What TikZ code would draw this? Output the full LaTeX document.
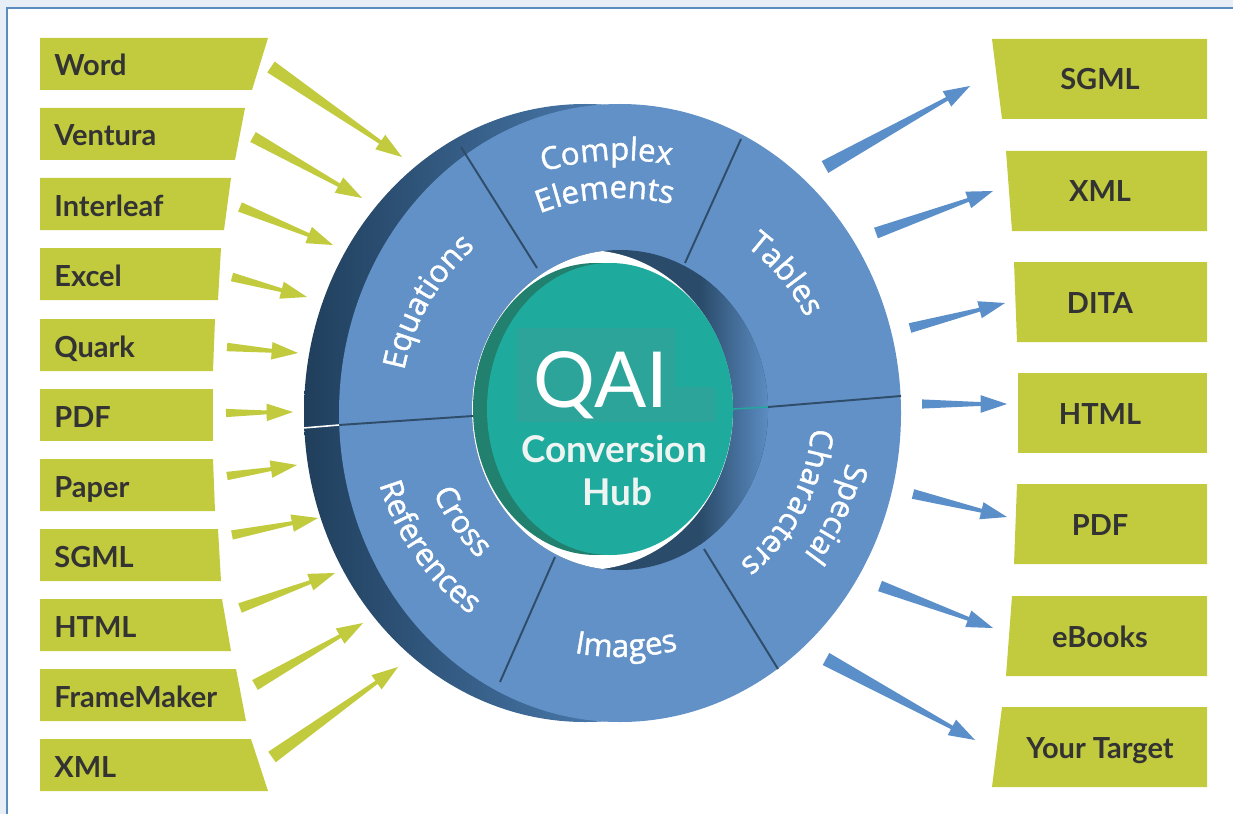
\documentclass[tikz,border=0pt]{standalone}
\usepackage{fontspec}
\setmainfont{Lato}
\newfontfamily\ringfamily{Open Sans}[FakeBold=1.3]
\usetikzlibrary{calc,decorations.text}

\definecolor{pagebg}{HTML}{E8EEF5}
\definecolor{framecol}{HTML}{5A8CBF}
\definecolor{boxgreen}{HTML}{C2CB3E}
\definecolor{boxtext}{HTML}{333333}
\definecolor{outblue}{HTML}{5B8FC9}
\definecolor{ringface}{HTML}{6191C7}
\definecolor{sidedark}{HTML}{1F3E5B}
\definecolor{sidelight}{HTML}{4E7FB4}
\definecolor{walldark}{HTML}{2A4B6A}
\definecolor{walllight}{HTML}{5D8EC5}
\definecolor{hubteal}{HTML}{1EAA9C}
\definecolor{hubdark}{HTML}{22806F}
\definecolor{hubpatch}{HTML}{2CA49A}
\definecolor{hubtext}{HTML}{EEF4F2}
\definecolor{divcol}{HTML}{2F4C69}

\newcommand{\ringlbl}{\color{white}\ringfamily\fontsize{17.8}{20}\selectfont}
\newcommand{\fatarrow}[3]{%
  \coordinate (neck) at ($(#2)!15pt!(#1)$);
  \fill[#3] let \p1=($(#2)-(#1)$), \n1={1.3pt+0.027*veclen(\x1,\y1)} in
    ($(#1)!\n1!90:(#2)$) -- ($(neck)!1.1pt!90:(#2)$) -- ($(neck)!5pt!90:(#2)$) -- (#2)
    -- ($(neck)!5pt!-90:(#2)$) -- ($(neck)!1.1pt!-90:(#2)$) -- ($(#1)!\n1!-90:(#2)$) -- cycle;
}

\begin{document}
\begin{tikzpicture}[x=0.02cm, y=-0.02cm]
	\tikzset{inlbl/.style={anchor=base west, inner sep=0pt, text=boxtext,
				font=\fontsize{16.5}{18}\selectfont\bfseries}}
	\tikzset{outlbl/.style={anchor=base, inner sep=0pt, text=boxtext,
				font=\fontsize{16.5}{18}\selectfont\bfseries}}
	\tikzset{divline/.style={draw=divcol, line width=1.1pt}}
	\tikzset{ringtext/.style={decorate, decoration={text along path,
				text align=center, text={|\ringlbl|#1}}}}

	\useasboundingbox (0,0) rectangle (1233,814);
	\fill[pagebg] (0,0) rectangle (1233,814);
	\draw[framecol, line width=1.4pt, fill=white] (7,8) rectangle (1260,840);

	% ring
	\begin{scope}
		\clip (585,413) ellipse [x radius=281, y radius=309];
		\shade[left color=sidedark, right color=sidelight] (300,100) rectangle (640,730);
	\end{scope}
	\fill[ringface] (620,413) ellipse [x radius=281, y radius=309];
	\begin{scope}
		\clip (620,410) ellipse [x radius=148, y radius=160];
		\fill[walldark] (460,240) rectangle (780,580);
		\shade[left color=walldark, right color=walllight] (700,240) rectangle (770,580);
		\fill[white] (585,410) ellipse [x radius=148, y radius=160];
		\fill[hubdark] (596,409) ellipse [x radius=123, y radius=146];
	\end{scope}
	\fill[hubteal] (610,409) ellipse [x radius=123, y radius=146];
	\fill[hubpatch] (517,328) rectangle (675,422);
	\fill[hubpatch] (675,387) rectangle (715,422);

	\draw[divline] (537,268) -- (461,147);
	\draw[divline] (685,263) -- (741,139);
	\draw[divline] (768,407) -- (901,396);
	\draw[hubteal, line width=0.8pt] (733,409) -- (768,407);
	\draw[divline] (704,549) -- (778,669);
	\draw[divline] (555,557) -- (500,682);
	\draw[divline] (473,416) -- (339,425);
	\draw[white, line width=0.9pt] (339,425) -- (303,428);

	\path[ringtext=Complex] (620,413) ++(-128:253) arc[start angle=-128, end angle=-58, radius=253];
	\path[ringtext=Elements] (620,413) ++(-134:215) arc[start angle=-134, end angle=-54, radius=215];
	\path[ringtext=Tables] (620,413) ++(-75:209) arc[start angle=-75, end angle=-5, radius=209];
	\path[ringtext=Equations] (620,413) ++(-185:220) arc[start angle=-185, end angle=-115, radius=220];
	\path[ringtext=Special] (620,413) ++(-10:232) arc[start angle=-10, end angle=60, radius=232];
	\path[ringtext=Characters] (620,413) ++(-12:192) arc[start angle=-12, end angle=68, radius=192];
	\path[ringtext=Images] (620,413) ++(123.5:244) arc[start angle=123.5, end angle=53.5, radius=244];
	\path[ringtext=Cross] (620,413) ++(-179.5:203) arc[start angle=-179.5, end angle=-249.5, radius=203];
	\path[ringtext=References] (620,413) ++(-180:251) arc[start angle=-180, end angle=-250, radius=251];

	\node[anchor=base, inner sep=0pt, text=white, font=\fontsize{44}{48}\selectfont] (qai) at (601,407) {QAI};
	\node[anchor=base, inner sep=0pt, text=hubtext, font=\fontsize{21}{24}\selectfont\bfseries] (conv) at (614,462) {Conversion};
	\node[anchor=base, inner sep=0pt, text=hubtext, font=\fontsize{21}{24}\selectfont\bfseries] (hub) at (617,505) {Hub};

	% source formats
	\fill[boxgreen] (40,38) -- (268,38) -- (252,90) -- (40,90) -- cycle;
	\fill[boxgreen] (40,108) -- (245,108) -- (235,160) -- (40,160) -- cycle;
	\fill[boxgreen] (40,178) -- (231,178) -- (224,230) -- (40,230) -- cycle;
	\fill[boxgreen] (40,248) -- (221,248) -- (218,300) -- (40,300) -- cycle;
	\fill[boxgreen] (40,319) -- (215,319) -- (213,371) -- (40,371) -- cycle;
	\fill[boxgreen] (40,389) -- (213,389) -- (213,441) -- (40,441) -- cycle;
	\fill[boxgreen] (40,459) -- (213,459) -- (215,511) -- (40,511) -- cycle;
	\fill[boxgreen] (40,529) -- (218,529) -- (221,581) -- (40,581) -- cycle;
	\fill[boxgreen] (40,599) -- (222,599) -- (231,651) -- (40,651) -- cycle;
	\fill[boxgreen] (40,669) -- (236,669) -- (246,721) -- (40,721) -- cycle;
	\fill[boxgreen] (40,739) -- (251,739) -- (268,791) -- (40,791) -- cycle;

	\node[inlbl] (inWord) at (54,76) {Word};
	\node[inlbl] (inVentura) at (54,146) {Ventura};
	\node[inlbl] (inInterleaf) at (54,216) {Interleaf};
	\node[inlbl] (inExcel) at (54,286) {Excel};
	\node[inlbl] (inQuark) at (54,357) {Quark};
	\node[inlbl] (inPDF) at (54,427) {PDF};
	\node[inlbl] (inPaper) at (54,497) {Paper};
	\node[inlbl] (inSGML) at (54,567) {SGML};
	\node[inlbl] (inHTML) at (54,637) {HTML};
	\node[inlbl] (inFrame) at (54,707) {FrameMaker};
	\node[inlbl] (inXML) at (54,777) {XML};

	% target formats
	\fill[boxgreen] (992,39) -- (1207,39) -- (1207,119) -- (1002,119) -- cycle;
	\fill[boxgreen] (1006,151) -- (1207,151) -- (1207,231) -- (1012,231) -- cycle;
	\fill[boxgreen] (1014,262) -- (1207,262) -- (1207,342) -- (1017,342) -- cycle;
	\fill[boxgreen] (1018,373) -- (1207,373) -- (1207,453) -- (1018,453) -- cycle;
	\fill[boxgreen] (1017,484) -- (1207,484) -- (1207,564) -- (1014,564) -- cycle;
	\fill[boxgreen] (1012,596) -- (1207,596) -- (1207,676) -- (1006,676) -- cycle;
	\fill[boxgreen] (1002,707) -- (1207,707) -- (1207,787) -- (992,787) -- cycle;

	\node[outlbl] (outSGML) at (1100,90) {SGML};
	\node[outlbl] (outXML) at (1100,202) {XML};
	\node[outlbl] (outDITA) at (1100,313) {DITA};
	\node[outlbl] (outHTML) at (1100,424) {HTML};
	\node[outlbl] (outPDF) at (1100,535) {PDF};
	\node[outlbl] (outEbooks) at (1100,647) {eBooks};
	\node[outlbl] (outTarget) at (1100,758) {Your Target};

	% incoming arrows
	\coordinate (wordT) at (271,67);   \coordinate (wordH) at (402,157);
	\coordinate (ventT) at (253,137);  \coordinate (ventH) at (362,198);
	\coordinate (leafT) at (240,207);  \coordinate (leafH) at (333,245);
	\coordinate (xlsT) at (232,277);   \coordinate (xlsH) at (307,297);
	\coordinate (quarkT) at (227,347); \coordinate (quarkH) at (298,353);
	\coordinate (pdfT) at (226,413);   \coordinate (pdfH) at (293,412);
	\coordinate (paperT) at (227,476); \coordinate (paperH) at (297,465);
	\coordinate (sgmlT) at (232,535);  \coordinate (sgmlH) at (318,518);
	\coordinate (htmlT) at (240,608);  \coordinate (htmlH) at (335,573);
	\coordinate (frameT) at (255,685); \coordinate (frameH) at (363,623);
	\coordinate (xmlT) at (272,757);   \coordinate (xmlH) at (398,667);

	\fatarrow{wordT}{wordH}{boxgreen}
	\fatarrow{ventT}{ventH}{boxgreen}
	\fatarrow{leafT}{leafH}{boxgreen}
	\fatarrow{xlsT}{xlsH}{boxgreen}
	\fatarrow{quarkT}{quarkH}{boxgreen}
	\fatarrow{pdfT}{pdfH}{boxgreen}
	\fatarrow{paperT}{paperH}{boxgreen}
	\fatarrow{sgmlT}{sgmlH}{boxgreen}
	\fatarrow{htmlT}{htmlH}{boxgreen}
	\fatarrow{frameT}{frameH}{boxgreen}
	\fatarrow{xmlT}{xmlH}{boxgreen}

	% outgoing arrows
	\coordinate (toSgmlT) at (825,167);   \coordinate (toSgmlH) at (970,86);
	\coordinate (toXmlT) at (876,233);    \coordinate (toXmlH) at (993,191);
	\coordinate (toDitaT) at (910,328);   \coordinate (toDitaH) at (1005,303);
	\coordinate (toHtmlT) at (922,404);   \coordinate (toHtmlH) at (1007,404);
	\coordinate (toPdfT) at (913,494);    \coordinate (toPdfH) at (1007,517);
	\coordinate (toBookT) at (880,586);   \coordinate (toBookH) at (993,628);
	\coordinate (toTargetT) at (826,659); \coordinate (toTargetH) at (975,740);

	\fatarrow{toSgmlT}{toSgmlH}{outblue}
	\fatarrow{toXmlT}{toXmlH}{outblue}
	\fatarrow{toDitaT}{toDitaH}{outblue}
	\fatarrow{toHtmlT}{toHtmlH}{outblue}
	\fatarrow{toPdfT}{toPdfH}{outblue}
	\fatarrow{toBookT}{toBookH}{outblue}
	\fatarrow{toTargetT}{toTargetH}{outblue}
\end{tikzpicture}
\end{document}
